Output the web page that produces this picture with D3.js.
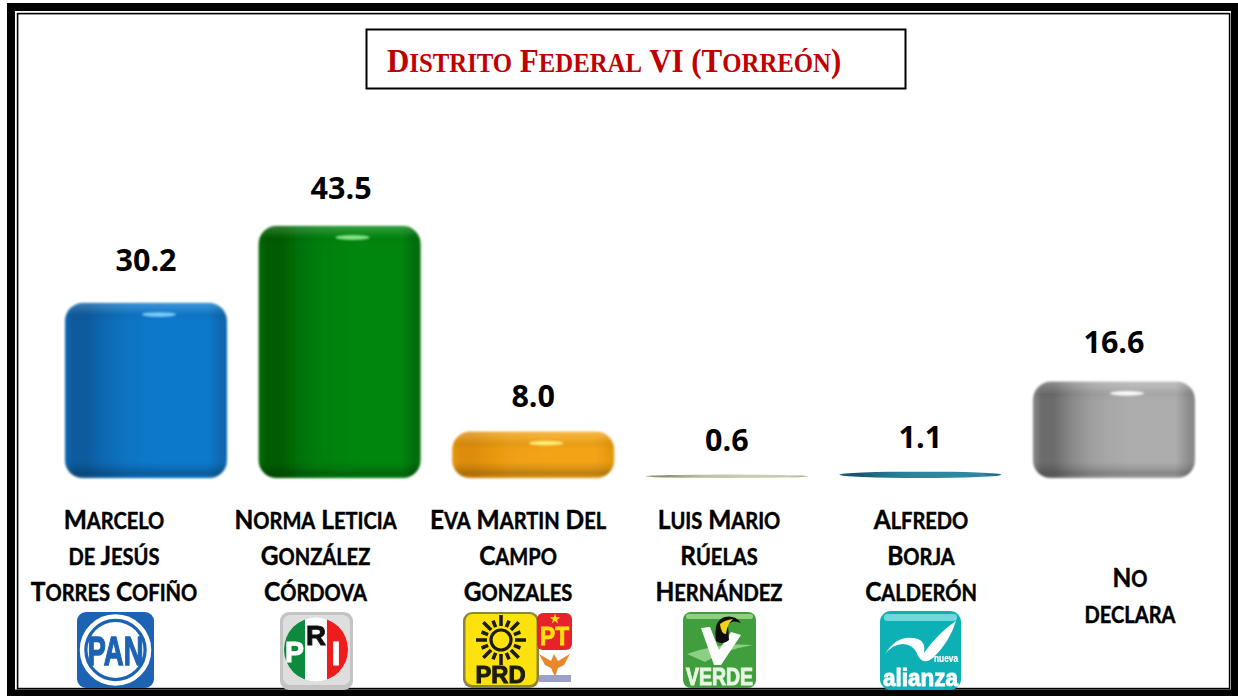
<!DOCTYPE html>
<html><head><meta charset="utf-8">
<script src="https://cdn.jsdelivr.net/npm/d3@7"></script>
<style>html,body{margin:0;padding:0;background:#fff}svg{display:block}</style>
</head><body><div id="c"></div>
<script>
const titleText = "Distrito Federal VI (Torreón)";
const candidates = ["Marcelo de Jesús Torres Cofiño","Norma Leticia González Córdova","Eva Martin Del Campo Gonzales","Luis Mario Rúelas Hernández","Alfredo Borja Calderón","No declara"];
const values = [30.2,43.5,8.0,0.6,1.1,16.6];
const valueLabels = ["30.2","43.5","8.0","0.6","1.1","16.6"];
const labelLines = [["Marcelo","de Jesús","Torres Cofiño"],["Norma Leticia","González","Córdova"],["Eva Martin Del","Campo","Gonzales"],["Luis Mario","Rúelas","Hernández"],["Alfredo","Borja","Calderón"],["No","declara"]];
const sideDark = ["#0a5a9c","#045c04","#dd8d08","#8d9270","#14586f","#6c6c6c"];
const sideMid  = ["#0a79cb","#06860a","#f3a416","#c9cdb0","#2f86a0","#adadad"];
const sideEdge = ["#0b68ae","#066c07","#e5990f","#a8ac90","#1f6d85","#8a8a8a"];
const glowTint = ["#7fd0ff","#8fe88f","#fff27a","#fff","#fff","#ffffff"];
const W=1238,H=696;
const svg=d3.select("#c").append("svg").attr("width",W).attr("height",H).attr("viewBox",[0,0,W,H]);
const defs=svg.append("defs");
const x=d3.scaleBand().domain(candidates).range([65,1195]).paddingInner(.163).paddingOuter(0);
const y=d3.scaleLinear().domain([0,43.5]).range([478,226]);
const blur=(id,sd)=>defs.append("filter").attr("id",id).attr("x","-30%").attr("y","-100%").attr("width","160%").attr("height","300%").append("feGaussianBlur").attr("stdDeviation",sd);
blur("soft",.9);blur("glow",1.1);blur("lg",.4);

// small capitals made of two sizes of capitals, the text stays one element
const smallCaps=(sel,s,big,ratio)=>{
  const runs=[];
  for(const ch of s){const low=ch!==ch.toUpperCase();const last=runs[runs.length-1];
    if(last&&last.low===low)last.t+=ch.toUpperCase();else runs.push({low,t:ch.toUpperCase()});}
  runs.forEach(r=>sel.append("tspan").attr("font-size",r.low?big*ratio:big).text(r.t));
};

// frame
const frame=svg.append("g").attr("fill","none").attr("stroke","#000");
frame.append("rect").attr("x",11).attr("y",7).attr("width",1224).attr("height",686.5).attr("stroke-width",8);
frame.append("rect").attr("x",17.6).attr("y",13.6).attr("width",1212).attr("height",675).attr("stroke-width",1.6);

// title
svg.append("rect").attr("x",366.5).attr("y",29.5).attr("width",539).attr("height",59).attr("fill","#fff").attr("stroke","#000").attr("stroke-width",2);
const titleEl=svg.append("text").attr("transform","translate(387,72) scale(.9,1)").attr("font-family","Liberation Serif").attr("font-weight",700).attr("fill","#c00000");
smallCaps(titleEl,titleText,34.4,.8);

// bars
const rows=candidates.map((c,i)=>({c,i,v:values[i],top:y(values[i]),h:y(0)-y(values[i]),x:x(c),w:x.bandwidth()}));
rows.forEach(d=>{
  const g=defs.append("linearGradient").attr("id","side"+d.i);
  const mix=t=>d3.interpolateRgb(sideDark[d.i],sideMid[d.i])(t);
  [[0,sideEdge[d.i]],[.05,sideDark[d.i]],[.13,sideDark[d.i]],[.24,mix(.45)],[.36,mix(.78)],[.48,mix(.93)],[.62,sideMid[d.i]],[.88,sideMid[d.i]],[.97,sideEdge[d.i]],[1,sideEdge[d.i]]].forEach(s=>g.append("stop").attr("offset",s[0]).attr("stop-color",s[1]));
  const v=defs.append("linearGradient").attr("id","vert"+d.i).attr("gradientUnits","userSpaceOnUse").attr("x1",0).attr("x2",0).attr("y1",d.top).attr("y2",d.top+d.h);
  const t=o=>Math.min(1,o/d.h), b=o=>Math.max(0,1-o/d.h);
  [[t(0),"#fff",.2],[t(6),"#fff",.1],[t(14),"#000",.03],[t(18),"#000",0],[b(16),"#000",0],[b(10),"#000",.1],[b(4),"#000",.24],[b(1),"#000",.08]]
    .sort((p,q)=>p[0]-q[0]).forEach(s=>v.append("stop").attr("offset",s[0]).attr("stop-color",s[1]).attr("stop-opacity",s[2]));
});
const bars=svg.append("g").selectAll("g").data(rows).join("g");
const rxOf=d=>d.h<12?d.w/2:18, ryOf=d=>d.h<12?d.h/2:Math.min(18,d.h/2.6);
bars.append("rect").attr("x",d=>d.x).attr("y",d=>d.top).attr("width",d=>d.w).attr("height",d=>d.h).attr("rx",rxOf).attr("ry",ryOf).attr("fill",d=>`url(#side${d.i})`).attr("filter",d=>d.h>12?"url(#soft)":null);
const big=bars.filter(d=>d.h>12);
big.append("rect").attr("x",d=>d.x).attr("y",d=>d.top).attr("width",d=>d.w).attr("height",d=>d.h).attr("rx",rxOf).attr("ry",ryOf).attr("fill",d=>`url(#vert${d.i})`).attr("filter","url(#soft)");
big.append("ellipse").attr("cx",d=>d.x+d.w*.58).attr("cy",d=>d.top+11.5).attr("rx",17).attr("ry",2.4).attr("fill",d=>glowTint[d.i]).attr("opacity",.95).attr("filter","url(#glow)");

// values
const labelGap=[32,27,25,0,0,29];
const labelShift=[0,1.5,0,0,0,0];
svg.append("g").selectAll("text").data(rows).join("text")
 .attr("x",d=>d.x+d.w/2+labelShift[d.i]).attr("y",d=>d.i==3?451:d.i==4?448:d.top-labelGap[d.i])
 .attr("text-anchor","middle").attr("font-family","Open Sans").attr("font-weight",700).attr("font-size",30.5).attr("fill","#000").text(d=>valueLabels[d.i]);

// candidate labels
const labelG=svg.append("g").attr("font-family","Lato").attr("font-weight",700).attr("text-anchor","middle").attr("fill","#000").attr("stroke","#000").attr("stroke-width",.45);
const labelCx=[114,315.5,518,719,921,1130];
rows.forEach(d=>{
  const lines=labelLines[d.i];
  lines.forEach((t,j)=>{
    const two=lines.length==2;
    const el=labelG.append("text").attr("transform",`translate(${labelCx[d.i]},${two?587+j*35.5:529+j*36}) scale(.89,1)`);
    smallCaps(el,t,27.5,.82);
  });
});

// logos
const logo=(tx,ty,w,h,fill,rx=9)=>{const g=svg.append("g").attr("transform",`translate(${tx},${ty})`).attr("filter","url(#lg)");
  g.append("rect").attr("width",w).attr("height",h).attr("rx",rx).attr("fill",fill);return g;};
const txt=(g,s,xx,yy,size,fill,len,sw=.8)=>{const t=g.append("text").attr("x",xx).attr("y",yy).attr("font-size",size).attr("fill",fill).attr("stroke",fill).attr("stroke-width",sw).attr("font-family","Liberation Sans").attr("font-weight",700).attr("text-anchor","middle").text(s);if(len)t.attr("textLength",len).attr("lengthAdjust","spacingAndGlyphs");return t;};

// PAN
{const g=logo(77,612,77,76,"#1b63b3");
 g.append("circle").attr("cx",38.5).attr("cy",38).attr("r",33.5).attr("fill","none").attr("stroke","#fff").attr("stroke-width",4.5);
 g.append("circle").attr("cx",38.5).attr("cy",38).attr("r",28).attr("fill","#fff");
 txt(g,"PAN",38.5,53,41,"#1b63b3",56,1.4);}
// PRI
{const g=logo(280,612,73,78,"#c4c4c4");
 g.append("rect").attr("x",3).attr("y",3).attr("width",67).attr("height",70).attr("rx",7).attr("fill","#dedede");
 const cx=36,cy=37.5,r=32;
 g.append("circle").attr("cx",cx).attr("cy",cy).attr("r",r).attr("fill","#fff");
 defs.append("clipPath").attr("id","priL").append("rect").attr("x",0).attr("y",0).attr("width",25).attr("height",78);
 defs.append("clipPath").attr("id","priR").append("rect").attr("x",47).attr("y",0).attr("width",30).attr("height",78);
 g.append("circle").attr("cx",cx).attr("cy",cy).attr("r",r).attr("fill","#0b8a3c").attr("clip-path","url(#priL)");
 g.append("circle").attr("cx",cx).attr("cy",cy).attr("r",r).attr("fill","#ee1c1c").attr("clip-path","url(#priR)");
 txt(g,"P",14.5,50,30,"#fff",19,1);
 txt(g,"R",36,33,28,"#111",20,1);
 txt(g,"I",56,53,34,"#fff",9,1);}
// PRD + PT + MC
{const g=logo(463,612,76,76,"#8d8440",9);
 g.append("rect").attr("x",2.5).attr("y",2).attr("width",71).attr("height",71).attr("rx",7).attr("fill","#fde20a");
 const sun=g.append("g").attr("transform","translate(38,28)");
 sun.append("circle").attr("r",10).attr("fill","none").attr("stroke","#1c1c10").attr("stroke-width",3.2);
 d3.range(16).forEach(k=>{sun.append("line").attr("x1",0).attr("x2",0).attr("y1",-14).attr("y2",k%2?-21:-25).attr("stroke","#1c1c10").attr("stroke-width",3.6).attr("transform",`rotate(${k*22.5})`);});
 txt(g,"PRD",37.5,71,23,"#1c1c10",50,1);
 const p=logo(537,613,35,37,"#e8242a",6);
 p.append("path").attr("d",d3.symbol(d3.symbolStar,34)()).attr("transform","translate(18,6)").attr("fill","#fde20a");
 txt(p,"PT",17.5,32,25,"#fde20a",29,.8);
 const m=svg.append("g").attr("transform","translate(537,651)").attr("filter","url(#lg)");
 m.append("path").attr("d","M2,3 L14,10 L17,3 L21,10 L33,3 L27,14 L21,17 L18,26 L14,17 L8,14 Z").attr("fill","#e8882a");
 m.append("rect").attr("x",2).attr("y",24).attr("width",32).attr("height",7).attr("fill","#9aa0c8");}
// VERDE
{const g=logo(683,612,73,76,"#3f9e3c",8);
 g.append("rect").attr("x",3).attr("y",2).attr("width",67).attr("height",5).attr("rx",2).attr("fill","#8fd07f");
 g.append("path").attr("d","M4,42 Q36,30 70,33 Q40,38 22,50 Z").attr("fill","#8dd084");
 g.append("path").attr("d","M18,16 L27,15 L36,38 L48,20 L58,23 L38,53 L31,53 Z").attr("fill","#fff");
 g.append("path").attr("d","M33,29 Q30,8 42,5 Q52,3 58,11 Q49,7 45,13 L46,28 Q40,34 33,29 Z").attr("fill","#111");
 g.append("path").attr("d","M37,12 Q42,8 50,7 Q44,12 43,22 Q38,22 37,12Z").attr("fill","#f2d21c");
 txt(g,"VERDE",36.5,73,24,"#e8f6e4",67,1);}
// Alianza
{const g=logo(880,611,81,79,"#0fb0b4",11);
 g.append("rect").attr("x",4).attr("y",3).attr("width",73).attr("height",7).attr("rx",3).attr("fill","#6fd8da");
 g.append("path").attr("d","M5,43 Q18,22 38,28 Q46,31 44,42 Q58,22 76,10 Q70,30 54,46 Q44,55 38,45 Q34,33 22,33 Q12,34 5,43 Z").attr("fill","#fff");
 txt(g,"nueva",66,51,10,"#fff",24,.2);
 txt(g,"alianza",40.5,74.5,24,"#fff",75,.9);}
</script></body></html>
